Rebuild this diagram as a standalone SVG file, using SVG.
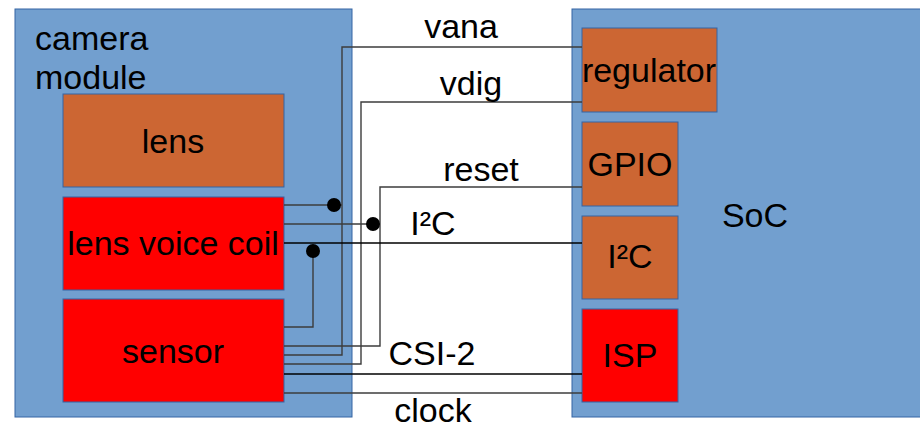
<svg xmlns="http://www.w3.org/2000/svg" width="920" height="428" viewBox="0 0 920 428">
<style>
text{font-family:"Liberation Sans",Arial,sans-serif;font-size:34px;fill:#000}
.c{text-anchor:middle}
.blue{fill:#729fcf;stroke:#3465a4;stroke-width:1}
.orange{fill:#cc6633;stroke:#3465a4;stroke-width:1}
.red{fill:#ff0000;stroke:#3465a4;stroke-width:1}
.g{fill:none;stroke:#3c3c3c;stroke-width:1.4}
.k{fill:none;stroke:#000;stroke-width:1.4}
.dot{fill:#000}
</style>
<rect width="920" height="428" fill="#fff"/>
<g id="camera-module">
<rect class="blue" x="15" y="9" width="337" height="408"/>
<text x="35" y="50">camera</text>
<text x="35" y="89">module</text>
</g>
<g id="soc">
<rect class="blue" x="572" y="9" width="360" height="408"/>
<text class="c" x="755" y="227">SoC</text>
</g>
<g id="lens">
<rect class="orange" x="63" y="94" width="221" height="93"/>
<text class="c" x="173" y="153">lens</text>
</g>
<g id="lens-voice-coil">
<rect class="red" x="63" y="197" width="221" height="93"/>
<text class="c" x="173" y="255">lens voice coil</text>
</g>
<g id="sensor">
<rect class="red" x="63" y="299" width="221" height="103"/>
<text class="c" x="173" y="363">sensor</text>
</g>
<g id="regulator">
<rect class="orange" x="582" y="28" width="135" height="84"/>
<text class="c" x="649" y="82">regulator</text>
</g>
<g id="gpio">
<rect class="orange" x="582" y="122" width="96" height="84"/>
<text class="c" x="630" y="176">GPIO</text>
</g>
<g id="i2c">
<rect class="orange" x="582" y="216" width="96" height="83"/>
<text class="c" x="630" y="268">I²C</text>
</g>
<g id="isp">
<rect class="red" x="582" y="309" width="96" height="93"/>
<text class="c" x="630" y="367">ISP</text>
</g>
<g id="connectors">
<polyline class="g" points="582,47 342,47 342,355 284,355"/>
<line class="g" x1="284" y1="205" x2="342" y2="205"/>
<circle class="dot" cx="334" cy="205" r="7"/>
<polyline class="g" points="582,102 361,102 361,364 284,364"/>
<polyline class="g" points="582,187 380,187 380,346 284,346"/>
<line class="g" x1="284" y1="224" x2="380" y2="224"/>
<circle class="dot" cx="373" cy="224" r="7"/>
<line class="k" x1="284" y1="243" x2="582" y2="243"/>
<polyline class="g" points="313,250 313,327 284,327"/>
<circle class="dot" cx="313" cy="251" r="7"/>
<line class="k" x1="284" y1="374" x2="582" y2="374"/>
<line class="g" x1="284" y1="393" x2="582" y2="393"/>
<text class="c" x="461" y="38">vana</text>
<text class="c" x="471" y="95">vdig</text>
<text class="c" x="481" y="181">reset</text>
<text class="c" x="433" y="235">I²C</text>
<text class="c" x="432" y="365">CSI-2</text>
<text class="c" x="433" y="422">clock</text>
</g>
</svg>
